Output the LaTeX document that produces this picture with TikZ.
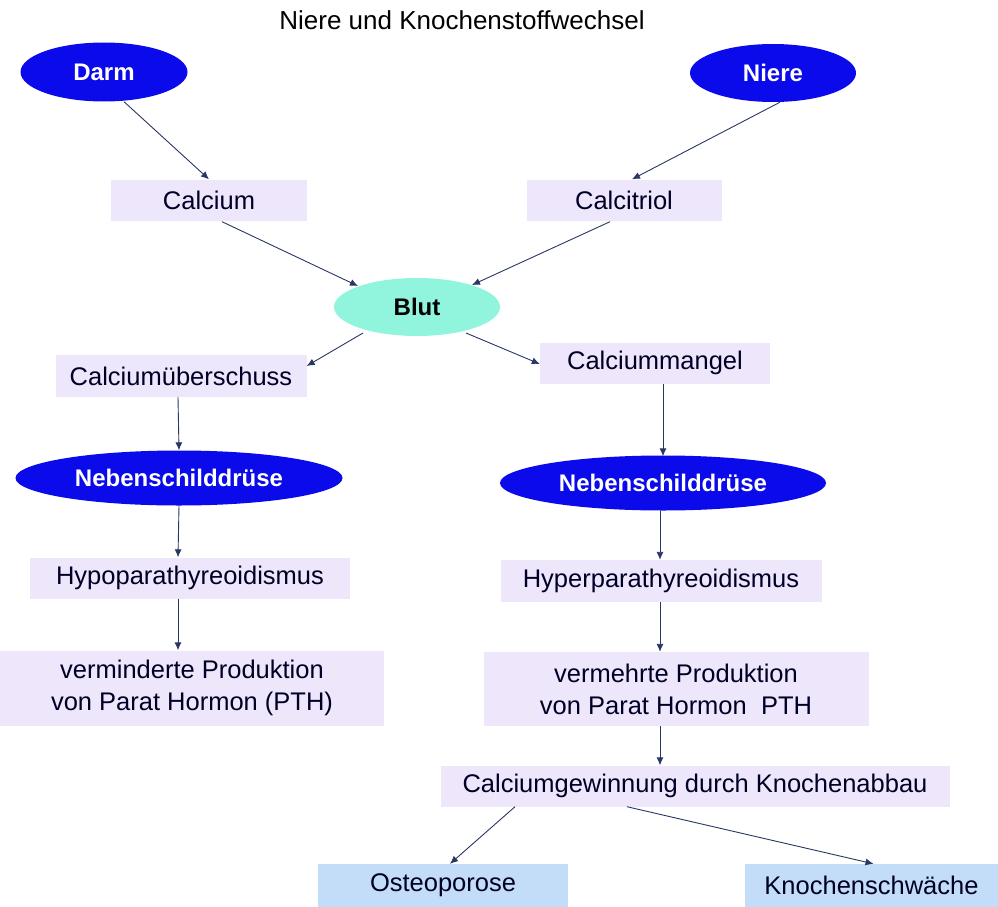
\documentclass[tikz,border=0pt]{standalone}
\usepackage{fontspec}
\setmainfont{Liberation Sans}
\usetikzlibrary{shapes.geometric,arrows.meta}
\definecolor{ellblue}{RGB}{10,10,235}
\definecolor{bluttc}{RGB}{144,245,220}
\definecolor{lav}{RGB}{238,230,250}
\definecolor{lblue}{RGB}{195,220,248}
\definecolor{arr}{RGB}{40,55,100}
\tikzset{
  ellb/.style={ellipse, fill=ellblue, inner sep=0pt, text=white, font=\fontsize{24}{28}\selectfont\bfseries},
  lbox/.style={rectangle, fill=lav, inner sep=0pt, text=black!85!blue, font=\fontsize{25.5}{32}\selectfont, align=center},
  bbox/.style={rectangle, fill=lblue, inner sep=0pt, text=black!85!blue, font=\fontsize{25.5}{32}\selectfont},
  con/.style={draw=arr, line width=0.9pt, -{Latex[length=8pt,width=7pt]}}
}
\begin{document}
\begin{tikzpicture}[x=1pt,y=-1pt]
\useasboundingbox (0,0) rectangle (998,907);
\node[font=\fontsize{26}{30}\selectfont] (title) at (462,20) {Niere und Knochenstoffwechsel};
\node[ellb, minimum width=167pt, minimum height=59pt] (darm) at (104,72) {Darm};
\node[ellb, minimum width=166pt, minimum height=58pt] (niere) at (773,73) {Niere};
\node[lbox, minimum width=196pt, minimum height=41pt] (calcium) at (209,200) {Calcium};
\node[lbox, minimum width=195pt, minimum height=41pt] (calcitriol) at (624,200) {Calcitriol};
\node[ellipse, fill=bluttc, inner sep=0pt, minimum width=166pt, minimum height=58pt, font=\fontsize{24}{28}\selectfont\bfseries] (blut) at (417,307) {Blut};
\node[lbox, minimum width=251pt, minimum height=42pt] (ueber) at (181,376) {Calciumüberschuss};
\node[lbox, minimum width=230pt, minimum height=41pt] (mangel) at (655,363) {Calciummangel};
\node[ellb, minimum width=327pt, minimum height=55pt] (nebl) at (179,478) {Nebenschilddrüse};
\node[ellb, minimum width=326pt, minimum height=55pt] (nebr) at (663,483) {Nebenschilddrüse};
\node[lbox, minimum width=320pt, minimum height=41pt] (hypo) at (190,578) {Hypoparathyreoidismus};
\node[lbox, minimum width=321pt, minimum height=42pt] (hyper) at (661,581) {Hyperparathyreoidismus};
\node[lbox, minimum width=384pt, minimum height=75pt] (vermin) at (192,688) {verminderte Produktion\\von Parat Hormon (PTH)};
\node[lbox, minimum width=385pt, minimum height=74pt] (vermehr) at (676,689) {vermehrte Produktion\\von Parat Hormon\ \ PTH};
\node[lbox, minimum width=509pt, minimum height=41pt] (gewinn) at (695,786) {Calciumgewinnung durch Knochenabbau};
\node[bbox, minimum width=250pt, minimum height=43pt] (osteo) at (443,885.5) {Osteoporose};
\node[bbox, minimum width=253pt, minimum height=43pt] (schwach) at (871.5,885.5) {Knochenschwäche};

\draw[con] ([xshift=20pt]darm.south) -- (calcium.north);
\draw[con] ([xshift=7pt]niere.south) -- ([xshift=8pt]calcitriol.north);
\draw[con] ([xshift=13pt,yshift=-1pt]calcium.south) -- ([shift={(-59,-21)}]blut.center);
\draw[con] ([xshift=-14pt,yshift=-1pt]calcitriol.south) -- ([shift={(55,-22)}]blut.center);
\draw[con] ([shift={(-54,26)}]blut.center) -- ([yshift=10pt]ueber.east);
\draw[con] ([shift={(49,26)}]blut.center) -- ([yshift=-1pt]mangel.west);
\draw[con] ([xshift=-3pt]ueber.south) -- (nebl.north);
\draw[con] ([xshift=8pt]mangel.south) -- ([yshift=-1pt]nebr.north);
\draw[con] (nebl.south) -- ([xshift=-12pt]hypo.north);
\draw[con] ([xshift=-3pt]nebr.south) -- ([xshift=-1pt]hyper.north);
\draw[con] ([xshift=-12pt]hypo.south) -- ([xshift=-14pt]vermin.north);
\draw[con] ([xshift=-1pt]hyper.south) -- ([xshift=-16pt]vermehr.north);
\draw[con] ([xshift=-16pt]vermehr.south) -- ([xshift=-35pt]gewinn.north);
\draw[con] ([xshift=-180pt]gewinn.south) -- ([xshift=7pt]osteo.north);
\draw[con] ([xshift=-68pt]gewinn.south) -- ([xshift=2pt]schwach.north);
\end{tikzpicture}
\end{document}
